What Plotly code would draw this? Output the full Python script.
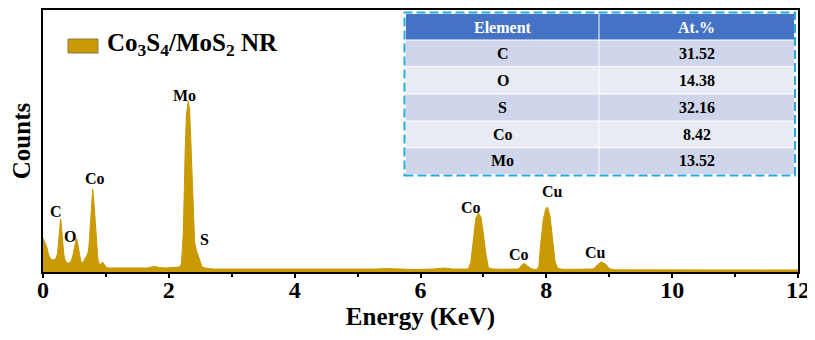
import plotly.graph_objects as go

# ---------------- data ----------------
energy_kev = [0.00, 0.03, 0.06, 0.09, 0.12, 0.16, 0.20, 0.23, 0.25, 0.27, 0.28, 0.29, 0.31, 0.33, 0.35,
              0.38, 0.41, 0.44, 0.47, 0.49, 0.51, 0.53, 0.55, 0.57, 0.60, 0.63, 0.66, 0.68, 0.71, 0.73,
              0.75, 0.77, 0.79, 0.81, 0.83, 0.85, 0.87, 0.89, 0.92, 0.95, 0.97, 1.00, 1.05, 1.15, 1.25,
              1.35, 1.45, 1.55, 1.65, 1.72, 1.78, 1.85, 1.95, 2.05, 2.12, 2.17, 2.20, 2.23, 2.26, 2.28,
              2.31, 2.33, 2.345, 2.38, 2.41, 2.44, 2.47, 2.50, 2.53, 2.58, 2.70, 2.90, 3.20, 3.50, 3.80,
              4.10, 4.40, 4.70, 5.00, 5.30, 5.45, 5.60, 5.90, 6.20, 6.39, 6.50, 6.65, 6.76, 6.80, 6.84,
              6.88, 6.92, 6.96, 7.00, 7.04, 7.08, 7.15, 7.30, 7.45, 7.56, 7.61, 7.65, 7.70, 7.77, 7.84,
              7.88, 7.91, 7.95, 7.99, 8.02, 8.06, 8.10, 8.14, 8.18, 8.25, 8.45, 8.65, 8.75, 8.81, 8.87,
              8.94, 9.01, 9.10, 9.50, 10.0, 10.5, 11.0, 11.5, 12.0]
counts = [340, 300, 250, 170, 130, 120, 130, 180, 330, 480, 530, 480, 320, 180, 120,
          90, 90, 100, 150, 220, 300, 340, 290, 200, 110, 90, 120, 150, 180, 250,
          450, 700, 830, 700, 500, 280, 140, 80, 80, 100, 80, 50, 40, 40, 35,
          40, 35, 40, 40, 50, 55, 45, 40, 45, 45, 50, 80, 390, 1220, 1580,
          1710, 1620, 1390, 720, 300, 210, 150, 100, 50, 40, 30, 30, 30, 30, 25,
          30, 30, 25, 25, 30, 35, 30, 25, 30, 40, 30, 28, 30, 100, 350,
          540, 590, 550, 380, 180, 40, 30, 28, 28, 30, 70, 87, 60, 30, 25,
          50, 280, 520, 630, 650, 550, 300, 100, 40, 27, 27, 25, 30, 70, 103,
          80, 30, 22, 20, 20, 20, 20, 20, 20]

peak_names = ["C", "O", "Co", "Mo", "S", "Co", "Co", "Cu", "Cu"]
peak_label_energy = [0.207, 0.437, 0.826, 2.241, 2.56, 6.80, 7.565, 8.105, 8.78]
peak_label_counts = [610, 360, 940, 1770, 330, 645, 180, 805, 200]

table_header = ["Element", "At.%"]
table_elements = ["C", "O", "S", "Co", "Mo"]
table_at_percent = ["31.52", "14.38", "32.16", "8.42", "13.52"]

x_tick_values = [0, 2, 4, 6, 8, 10, 12]
x_tick_labels = ["<b>%d</b>" % v for v in x_tick_values]
series_name = "Co<sub>3</sub>S<sub>4</sub>/MoS<sub>2</sub> NR"

# ---------------- style / geometry ----------------
FONT = "Liberation Serif, Times New Roman, serif"
GOLD = "#C99A04"
OFF = 8  # page body margin of the browser
PLOT_L, PLOT_R, PLOT_T, PLOT_B = 43, 798, 10, 272   # plot area in window pixels
FIG_W, FIG_H = 807, 324


def px(xw):
    return (xw - PLOT_L) / (PLOT_R - PLOT_L)


def py(yw):
    return (PLOT_B - yw) / (PLOT_B - PLOT_T)


fig = go.Figure()
fig.add_trace(go.Scatter(
    x=energy_kev, y=counts, mode="lines", fill="tozeroy",
    line=dict(color=GOLD, width=1), fillcolor=GOLD,
    showlegend=False, hoverinfo="skip"))

annotations = []
shapes = []

for name, ex, cy in zip(peak_names, peak_label_energy, peak_label_counts):
    annotations.append(dict(x=ex, y=cy, xref="x", yref="y", text="<b>%s</b>" % name,
                            showarrow=False, xanchor="center", yanchor="middle",
                            font=dict(family=FONT, size=16, color="black")))

# legend (drawn manually to match the large swatch)
shapes.append(dict(type="rect", xref="paper", yref="paper", x0=px(68), x1=px(98), y0=py(53), y1=py(39),
                   fillcolor=GOLD, line=dict(color="#8a7a50", width=1)))
annotations.append(dict(x=px(105), y=py(45), xref="paper", yref="paper", text="<b>%s</b>" % series_name,
                        showarrow=False, xanchor="left", yanchor="middle",
                        font=dict(family=FONT, size=25, color="black")))

# table inset (drawn with shapes + text)
T_L, T_R, T_MID = 406, 794, 599
row_edges = [14, 40, 66.7, 94, 121, 147.7, 174]
row_fills = ["#4472C4", "#CFD5EA", "#E9EBF5", "#CFD5EA", "#E9EBF5", "#CFD5EA"]
rows = [table_header] + [[e, v] for e, v in zip(table_elements, table_at_percent)]
for i, (r, fillc) in enumerate(zip(rows, row_fills)):
    y0w, y1w = row_edges[i], row_edges[i + 1]
    shapes.append(dict(type="rect", xref="paper", yref="paper", x0=px(T_L), x1=px(T_R),
                       y0=py(y1w), y1=py(y0w), fillcolor=fillc, line=dict(width=0), layer="above"))
    col = "white" if i == 0 else "black"
    for txt, cx in zip(r, [(T_L + T_MID) / 2, (T_MID + T_R) / 2]):
        annotations.append(dict(x=px(cx), y=py((y0w + y1w) / 2), xref="paper", yref="paper",
                                text="<b>%s</b>" % txt, showarrow=False, xanchor="center", yanchor="middle",
                                font=dict(family=FONT, size=16, color=col)))
for yw in row_edges[1:-1]:
    shapes.append(dict(type="line", xref="paper", yref="paper", x0=px(T_L), x1=px(T_R), y0=py(yw), y1=py(yw),
                       line=dict(color="white", width=1), layer="above"))
shapes.append(dict(type="line", xref="paper", yref="paper", x0=px(T_MID), x1=px(T_MID),
                   y0=py(row_edges[-1]), y1=py(row_edges[0]), line=dict(color="white", width=1), layer="above"))
shapes.append(dict(type="rect", xref="paper", yref="paper", x0=px(404.5), x1=px(795), y0=py(175.5), y1=py(12.5),
                   fillcolor="rgba(0,0,0,0)", line=dict(color="#27A9E1", width=2, dash="9px,4px"), layer="above"))

fig.update_layout(
    width=FIG_W, height=FIG_H,
    margin=dict(l=PLOT_L - OFF, r=OFF + FIG_W - PLOT_R, t=PLOT_T - OFF, b=OFF + FIG_H - PLOT_B),
    paper_bgcolor="white", plot_bgcolor="white",
    font=dict(family=FONT, color="black"),
    annotations=annotations, shapes=shapes,
    xaxis=dict(range=[0, 12], tickvals=x_tick_values, ticktext=x_tick_labels, ticks="outside", ticklen=4,
               tickwidth=1.5, tickcolor="black", ticklabelstandoff=-9, ticklabeloverflow="allow",
               automargin=False,
               minor=dict(dtick=1, ticks="outside", ticklen=3, tickwidth=1.5, tickcolor="black"),
               showline=True, linecolor="black", linewidth=1.5, mirror=True, showgrid=False, zeroline=False,
               tickfont=dict(family=FONT, size=24, color="black"),
               title=dict(text="<b>Energy (KeV)</b>", font=dict(family=FONT, size=25, color="black"), standoff=0)),
    yaxis=dict(range=[0, 2620], showticklabels=False, ticks="", showline=True, linecolor="black",
               linewidth=1.5, mirror=True, showgrid=False, zeroline=False, automargin=False,
               title=dict(text="<b>Counts</b>", font=dict(family=FONT, size=25, color="black"), standoff=6)),
)

fig.write_html("out.html")
